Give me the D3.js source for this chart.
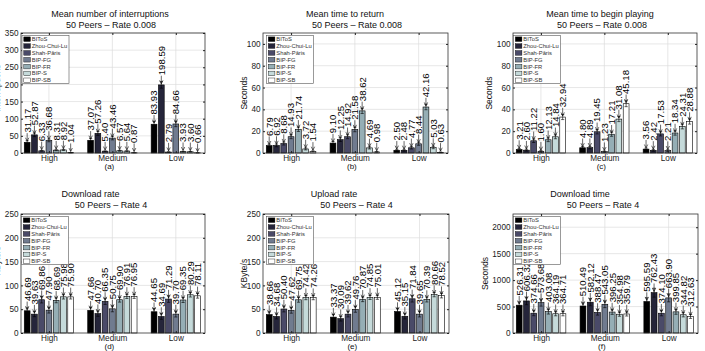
<!DOCTYPE html>
<html><head><meta charset="utf-8">
<script src="https://cdn.jsdelivr.net/npm/d3@7"></script>
<style>body{margin:0;background:#fff} svg{display:block;font-family:"Liberation Sans",Arial,Helvetica,sans-serif}</style>
</head><body>
<svg id="c" width="705" height="351"></svg>
<script>
const groups = ["High", "Medium", "Low"];
const seriesNames = ["BIToS", "Zhou-Chui-Lu", "Shah-Pâris", "BIP-FG", "BIP-FR", "BIP-S", "BIP-SB"];
const seriesColors = ["#000001", "#25253a", "#4a4a68", "#707b8f", "#95aeb5", "#c5dada", "#ffffff"];

// (a) Mean number of interruptions  [High, Medium, Low] x 7 series
const interruptions = [
  [31.17, 52.87, 6.33, 36.68, 8.31, 8.92, 1.04],
  [37.07, 57.26, 5.40, 43.46, 6.57, 5.64, 0.87],
  [83.93, 198.59, 2.79, 84.66, 3.93, 3.60, 0.66]
];
const interruptionsErr = [
  [4.5, 5.2, 1.2, 4.0, 1.5, 1.6, 0.4],
  [5.0, 6.1, 1.1, 5.2, 1.3, 1.2, 0.3],
  [8.2, 9.5, 0.8, 7.9, 1.0, 0.9, 0.3]
];
// (b) Mean time to return
const returnTime = [
  [6.79, 6.92, 8.68, 14.93, 21.74, 3.72, 1.54],
  [9.10, 12.25, 14.92, 21.58, 38.62, 4.69, 0.98],
  [2.50, 2.48, 4.77, 8.44, 42.16, 5.03, 0.63]
];
const returnTimeErr = [
  [1.3, 1.2, 1.4, 1.8, 2.0, 0.9, 0.5],
  [1.5, 1.7, 1.8, 2.1, 2.4, 1.0, 0.4],
  [0.8, 0.8, 1.1, 1.4, 2.5, 1.1, 0.3]
];
// (c) Mean time to begin playing
const beginPlaying = [
  [3.21, 2.60, 11.22, 1.60, 12.13, 14.84, 32.94],
  [4.80, 4.89, 19.45, 1.23, 17.21, 31.08, 45.18],
  [3.56, 2.42, 17.53, 2.21, 18.34, 24.31, 28.88]
];
const beginPlayingErr = [
  [0.9, 0.8, 1.6, 0.7, 1.7, 1.8, 2.3],
  [1.1, 1.1, 2.0, 0.6, 1.9, 2.3, 2.7],
  [0.9, 0.8, 1.9, 0.8, 2.0, 2.2, 2.4]
];
// (d) Download rate
const downloadRate = [
  [46.69, 39.63, 69.86, 47.90, 68.69, 75.98, 75.90],
  [47.66, 40.70, 66.35, 50.75, 69.90, 76.91, 76.95],
  [44.65, 34.69, 71.29, 39.70, 69.35, 80.29, 78.11]
];
const downloadRateErr = [
  [6.1, 5.4, 6.8, 6.0, 5.2, 4.6, 4.5],
  [6.3, 5.7, 6.5, 6.2, 5.0, 4.4, 4.3],
  [6.8, 6.0, 6.9, 6.1, 5.3, 4.7, 4.9]
];
// (e) Upload rate
const uploadRate = [
  [38.66, 34.68, 50.40, 47.62, 69.75, 74.42, 74.26],
  [33.37, 30.09, 39.62, 49.76, 70.87, 74.85, 75.01],
  [45.12, 35.15, 71.84, 39.65, 70.39, 80.66, 78.52]
];
const uploadRateErr = [
  [5.8, 5.2, 6.1, 6.0, 5.1, 4.5, 4.4],
  [5.5, 5.0, 5.9, 6.2, 5.0, 4.4, 4.3],
  [6.6, 5.6, 6.8, 5.9, 5.2, 4.6, 4.8]
];
// (f) Download time
const downloadTime = [
  [526.31, 606.32, 374.66, 573.68, 403.08, 364.19, 364.71],
  [510.49, 582.12, 388.47, 543.05, 396.25, 354.98, 359.79],
  [595.59, 762.43, 374.10, 663.90, 399.85, 344.82, 312.63]
];
const downloadTimeErr = [
  [62, 71, 48, 66, 45, 39, 40],
  [60, 68, 50, 63, 44, 38, 39],
  [70, 85, 49, 75, 46, 40, 37]
];

const ticksInterruptions = [0, 50, 100, 150, 200, 250, 300, 350];
const ticksSeconds = [0, 20, 40, 60, 80, 100];
const ticksRate = [0, 50, 100, 150, 200, 250];
const ticksTime = [0, 500, 1000, 1500, 2000];

const panels = [
  {t: ["Mean number of interruptions", "50 Peers – Rate 0.008"], tx: [110, 111], ty: [17, 27.5],
   vals: interruptions, errs: interruptionsErr, ymax: 350, ticks: ticksInterruptions,
   ylab: "Interruptions", ylx: -0.5, yly: 88, letter: "(a)", L: 21, R: 205, T: 33, B: 153, ldx: 1},
  {t: ["Mean time to return", "50 Peers – Rate 0.008"], tx: [345, 357], ty: [17, 27.5],
   vals: returnTime, errs: returnTimeErr, ymax: 110, ticks: ticksSeconds,
   ylab: "Seconds", ylx: 247, yly: 93, letter: "(b)", L: 263, R: 448, T: 33, B: 153, ldx: 3.5},
  {t: ["Mean time to begin playing", "50 Peers – Rate 0.008"], tx: [600, 602], ty: [17, 27.5],
   vals: beginPlaying, errs: beginPlayingErr, ymax: 110, ticks: ticksSeconds,
   ylab: "Seconds", ylx: 491.5, yly: 93, letter: "(c)", L: 513, R: 697, T: 33, B: 153, ldx: 0.5},
  {t: ["Download rate", "50 Peers – Rate 4"], tx: [90.5, 111], ty: [197, 208],
   vals: downloadRate, errs: downloadRateErr, ymax: 250, ticks: ticksRate,
   ylab: "KByte/s", ylx: -0.5, yly: 261, letter: "(d)", L: 21, R: 205, T: 214, B: 333, ldx: 0.5},
  {t: ["Upload rate", "50 Peers – Rate 4"], tx: [334, 356.5], ty: [197, 208],
   vals: uploadRate, errs: uploadRateErr, ymax: 250, ticks: ticksRate,
   ylab: "KByte/s", ylx: 246.5, yly: 273.5, letter: "(e)", L: 263, R: 449, T: 214, B: 333, ldx: 3.5},
  {t: ["Download time", "50 Peers – Rate 4"], tx: [580, 603], ty: [197, 208],
   vals: downloadTime, errs: downloadTimeErr, ymax: 2250, ticks: ticksTime,
   ylab: "Seconds", ylx: 488, yly: 273.5, letter: "(f)", L: 513, R: 698, T: 214, B: 333, ldx: 0.5}
];

const svg = d3.select("#c");
svg.append("rect").attr("width", 705).attr("height", 351).attr("fill", "#fff");
const fmt = d3.format(".2f");
const nS = seriesNames.length;
const slot = 0.8 / nS;
const bw = slot * 0.8;

panels.forEach(p => {
  const g = svg.append("g");
  const x = d3.scaleLinear().domain([0.56, 3.46]).range([p.L, p.R]);
  const y = d3.scaleLinear().domain([0, p.ymax]).range([p.B, p.T]);

  // grid
  g.append("g").selectAll("line").data(p.ticks.filter(t => t > 0)).join("line")
    .attr("x1", p.L).attr("x2", p.R).attr("y1", d => y(d)).attr("y2", d => y(d))
    .attr("stroke", "#dcdcdc").attr("stroke-width", 0.7);
  g.append("g").selectAll("line").data([1, 2, 3]).join("line")
    .attr("x1", d => x(d)).attr("x2", d => x(d)).attr("y1", p.T).attr("y2", p.B)
    .attr("stroke", "#dcdcdc").attr("stroke-width", 0.7);

  // bars
  const items = [];
  p.vals.forEach((row, gi) => row.forEach((v, si) => {
    items.push({gi, si, v, e: p.errs[gi][si], c: gi + 1 - 0.4 + slot * (si + 0.5)});
  }));
  g.append("g").selectAll("rect").data(items).join("rect")
    .attr("x", d => x(d.c - bw / 2)).attr("width", d => x(d.c + bw / 2) - x(d.c - bw / 2))
    .attr("y", d => y(d.v)).attr("height", d => y(0) - y(d.v))
    .attr("fill", d => seriesColors[d.si]).attr("stroke", "#000").attr("stroke-width", 0.6);

  // error bars
  const eb = g.append("g").attr("stroke", "#000").attr("stroke-width", 0.6).attr("fill", "none");
  eb.selectAll("path").data(items).join("path")
    .attr("d", d => {
      const cx = x(d.c), y1 = y(Math.max(0, d.v - d.e)), y2 = y(d.v + d.e);
      return `M${cx},${y1}V${y2}M${cx - 1.6},${y1}H${cx + 1.6}M${cx - 1.6},${y2}H${cx + 1.6}`;
    });

  // axes box
  g.append("rect").attr("x", p.L).attr("y", p.T).attr("width", p.R - p.L).attr("height", p.B - p.T)
    .attr("fill", "none").attr("stroke", "#333").attr("stroke-width", 0.8);

  const ya = g.append("g").attr("transform", `translate(${p.L},0)`)
    .call(d3.axisLeft(y).tickValues(p.ticks).tickFormat(d3.format("d")).tickSize(-2).tickSizeOuter(0).tickPadding(2.5));
  ya.select(".domain").remove();
  ya.attr("font-size", 8.2).attr("font-family", null).attr("color", "#222");
  const yr = g.append("g").attr("transform", `translate(${p.R},0)`)
    .call(d3.axisRight(y).tickValues(p.ticks).tickSize(-2).tickSizeOuter(0).tickFormat(""));
  yr.select(".domain").remove(); yr.attr("color", "#222");

  const xa = g.append("g").attr("transform", `translate(0,${p.B})`)
    .call(d3.axisBottom(x).tickValues([1, 2, 3]).tickFormat(d => groups[d - 1]).tickSize(-2).tickSizeOuter(0).tickPadding(2.4));
  xa.select(".domain").remove();
  xa.attr("font-size", 8.2).attr("font-family", null).attr("color", "#222");
  const xt = g.append("g").attr("transform", `translate(0,${p.T})`)
    .call(d3.axisTop(x).tickValues([1, 2, 3]).tickSize(-2).tickSizeOuter(0).tickFormat(""));
  xt.select(".domain").remove(); xt.attr("color", "#222");

  // value labels with arrows
  const lab = g.append("g");
  items.forEach(d => {
    const cx = x(d.c), y0 = y(d.v) - 1.2;
    lab.append("path")
      .attr("d", `M${cx},${y0}V${y0 - 8}M${cx - 1.7},${y0 - 3.4}L${cx},${y0}L${cx + 1.7},${y0 - 3.4}`)
      .attr("stroke", "#000").attr("stroke-width", 0.6).attr("fill", "none");
    lab.append("text")
      .attr("transform", `translate(${cx},${y0 - 8.5}) rotate(-90)`)
      .attr("text-anchor", "start").attr("dy", "0.35em")
      .attr("font-size", 9.6).attr("fill", "#000").text(fmt(d.v));
  });

  // legend
  const lx = p.L + p.ldx, ly = p.T + 2.5;
  const leg = g.append("g");
  leg.append("rect").attr("x", lx).attr("y", ly).attr("width", 47).attr("height", 48)
    .attr("fill", "#fff").attr("stroke", "#555").attr("stroke-width", 0.6);
  seriesNames.forEach((s, i) => {
    const yc = ly + 3.7 + i * 6.85;
    leg.append("rect").attr("x", lx + 1.8).attr("y", yc - 2.3).attr("width", 6.6).attr("height", 4.6)
      .attr("fill", seriesColors[i]).attr("stroke", "#000").attr("stroke-width", 0.4);
    leg.append("text").attr("x", lx + 9.8).attr("y", yc).attr("dy", "0.35em")
      .attr("font-size", 5.8).attr("fill", "#333").text(s);
  });

  // titles
  p.t.forEach((t, i) => {
    g.append("text").attr("x", p.tx[i]).attr("y", p.ty[i]).attr("text-anchor", "middle")
      .attr("font-size", 9).attr("fill", "#111").text(t);
  });
  // y label
  g.append("text").attr("transform", `translate(${p.ylx},${p.yly}) rotate(-90)`)
    .attr("text-anchor", "middle").attr("font-size", 8.5).attr("fill", "#111").text(p.ylab);
  // subplot letter
  g.append("text").attr("x", x(2) - 3).attr("y", p.B + 15.8).attr("text-anchor", "middle")
    .attr("font-size", 8).attr("fill", "#111").text(p.letter);
});
</script>
</body></html>
